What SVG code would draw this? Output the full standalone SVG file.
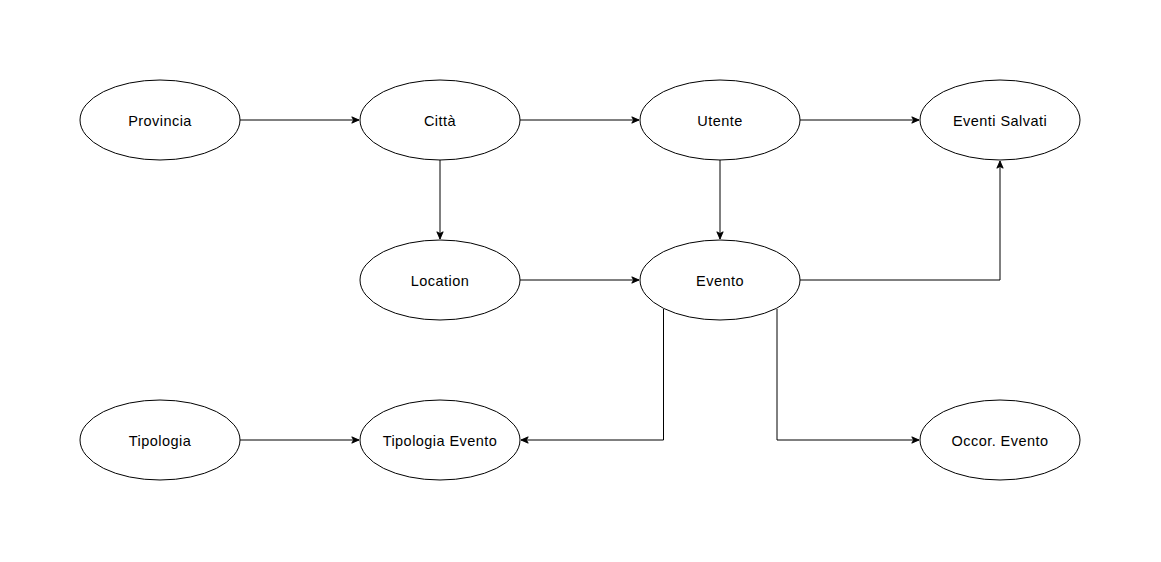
<svg xmlns="http://www.w3.org/2000/svg" width="1161" height="562" viewBox="0 0 1161 562">
<style>
.n ellipse{fill:#fff;stroke:#000;stroke-width:1}
.n text{font-family:"Liberation Sans",Arial,sans-serif;font-size:14.5px;letter-spacing:0.45px;fill:#000;text-anchor:middle;dominant-baseline:central}
#edges path{fill:none;stroke:#000;stroke-width:1;marker-end:url(#arr)}
</style>
<defs>
<marker id="arr" viewBox="0 0 10 10" refX="9" refY="5" markerWidth="9" markerHeight="9" markerUnits="userSpaceOnUse" orient="auto">
<path d="M1,1.5 L9,5 L1,8.5 L3,5 Z" fill="#000" stroke="#000" stroke-width="1"/>
</marker>
</defs>
<rect width="1161" height="562" fill="#fff"/>
<g id="edges">
<path d="M240,120 H359"/>
<path d="M520,120 H639"/>
<path d="M800,120 H919"/>
<path d="M440,160 V239"/>
<path d="M720,160 V239"/>
<path d="M520,280 H639"/>
<path d="M800,280 H1000 V161"/>
<path d="M663.5,309 V440 H521"/>
<path d="M777,309 V440 H919"/>
<path d="M240,440 H359"/>
</g>
<g id="provincia" class="n"><ellipse cx="160" cy="120" rx="80" ry="40"/><text x="160" y="120.5">Provincia</text></g>
<g id="citta" class="n"><ellipse cx="440" cy="120" rx="80" ry="40"/><text x="440" y="120.5">Città</text></g>
<g id="utente" class="n"><ellipse cx="720" cy="120" rx="80" ry="40"/><text x="720" y="120.5">Utente</text></g>
<g id="eventi-salvati" class="n"><ellipse cx="1000" cy="120" rx="80" ry="40"/><text x="1000" y="120.5">Eventi Salvati</text></g>
<g id="location" class="n"><ellipse cx="440" cy="280" rx="80" ry="40"/><text x="440" y="280.5">Location</text></g>
<g id="evento" class="n"><ellipse cx="720" cy="280" rx="80" ry="40"/><text x="720" y="280.5">Evento</text></g>
<g id="tipologia" class="n"><ellipse cx="160" cy="440" rx="80" ry="40"/><text x="160" y="440.5">Tipologia</text></g>
<g id="tipologia-evento" class="n"><ellipse cx="440" cy="440" rx="80" ry="40"/><text x="440" y="440.5">Tipologia Evento</text></g>
<g id="occor-evento" class="n"><ellipse cx="1000" cy="440" rx="80" ry="40"/><text x="1000" y="440.5">Occor. Evento</text></g>
</svg>
